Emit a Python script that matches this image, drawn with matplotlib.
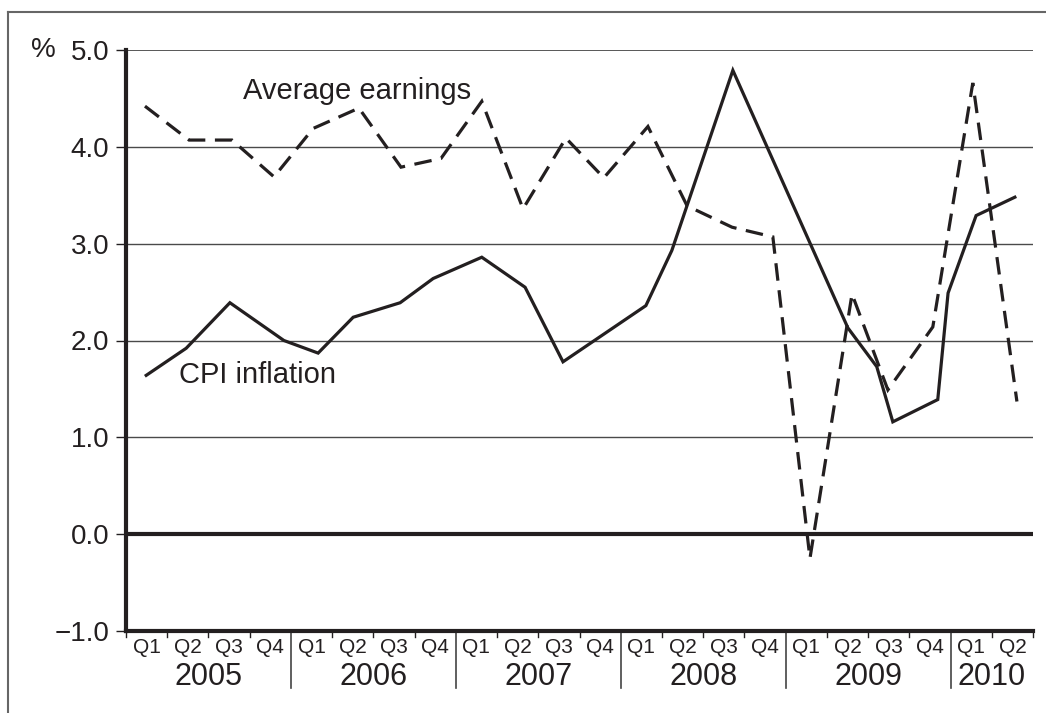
import matplotlib
matplotlib.use("Agg")
import matplotlib.pyplot as plt
from matplotlib.lines import Line2D

plt.rcParams['font.family'] = ['Liberation Sans', 'DejaVu Sans']

# ---- data ----
years = ["2005", "2006", "2007", "2008", "2009", "2010"]
quarters_per_year = [4, 4, 4, 4, 4, 2]
quarter_names = ["Q1", "Q2", "Q3", "Q4"]

earn_x = [0.46, 1.53, 2.57, 3.59, 4.54, 5.65, 6.67, 7.64, 8.63, 9.63, 10.67,
          11.59, 12.66, 13.61, 14.70, 15.69, 16.59, 17.61, 18.48, 19.57, 20.54, 21.61]
earn_y = [4.42, 4.07, 4.07, 3.69, 4.19, 4.40, 3.79, 3.88, 4.47, 3.36, 4.09,
          3.68, 4.21, 3.39, 3.17, 3.07, -0.25, 2.48, 1.49, 2.14, 4.66, 1.37]

cpi_x = [0.49, 1.46, 2.52, 3.83, 4.66, 5.51, 6.65, 7.45, 8.63, 9.68, 10.60,
         12.61, 13.24, 14.72, 17.51, 18.21, 18.60, 19.69, 19.94, 20.62, 21.56]
cpi_y = [1.64, 1.92, 2.39, 2.00, 1.87, 2.24, 2.39, 2.64, 2.86, 2.55, 1.78,
         2.36, 2.93, 4.79, 2.13, 1.73, 1.16, 1.39, 2.49, 3.29, 3.48]

y_ticks = [-1.0, 0.0, 1.0, 2.0, 3.0, 4.0, 5.0]
y_tick_labels = ["\u22121.0", "0.0", "1.0", "2.0", "3.0", "4.0", "5.0"]

ink = "#231f20"
W, H = 1046, 713
fig = plt.figure(figsize=(W / 100, H / 100), dpi=100)
ax = fig.add_axes([126 / W, 1 - 631 / H, (1033 - 126) / W, (631 - 50) / H])

n_q = sum(quarters_per_year)
ax.set_xlim(0, n_q)
ax.set_ylim(-1.0, 5.0)

# grid lines
for v in y_ticks[1:]:
    if v == 0.0:
        continue
    ax.axhline(v, color="#4a4a4a", lw=1.0 if v != 5.0 else 1.3, zorder=1)
ax.axhline(0.0, color=ink, lw=3.0, zorder=2)

ax.plot(earn_x, earn_y, color=ink, lw=2.3, linestyle=(0, (5.5, 3)), zorder=3,
        solid_joinstyle="miter", dash_joinstyle="miter")
ax.plot(cpi_x, cpi_y, color=ink, lw=2.3, zorder=4, solid_joinstyle="miter")

# spines
for s in ["top", "right"]:
    ax.spines[s].set_visible(False)
ax.spines["left"].set_linewidth(3.0)
ax.spines["bottom"].set_linewidth(3.0)
ax.spines["left"].set_color(ink)
ax.spines["bottom"].set_color(ink)

ax.set_yticks(y_ticks)
ax.set_yticklabels(y_tick_labels)
ax.tick_params(axis="y", length=7, width=1.0, color=ink, labelsize=20,
               labelcolor=ink, pad=5)
ax.set_xticks([])

# x axis quarter / year labels
tr = ax.get_xaxis_transform()
pos = 0
for yr, nq in zip(years, quarters_per_year):
    for k in range(nq):
        ax.text(pos + k + 0.5, -0.029, quarter_names[k], transform=tr,
                ha="center", va="center", fontsize=15, color=ink)
        if k > 0:
            ax.plot([pos + k, pos + k], [0, -0.011], transform=tr, color=ink,
                    lw=1.0, clip_on=False)
    ax.text(pos + nq / 2, -0.079, yr, transform=tr, ha="center", va="center",
            fontsize=22, color=ink)
    if pos > 0:
        ax.plot([pos, pos], [0, -0.098], transform=tr, color="#444444", lw=1.2,
                clip_on=False)
    pos += nq
for edge in (0, n_q):
    ax.plot([edge, edge], [0, -0.011], transform=tr, color=ink, lw=1.0, clip_on=False)

# % label
fig.text(43 / W, 1 - 50 / H, "%", ha="center", va="center", fontsize=20, color=ink)

# annotations
ax.text(2.84, 4.58, "Average earnings", ha="left", va="center", fontsize=21, color=ink)
ax.text(1.29, 1.64, "CPI inflation", ha="left", va="center", fontsize=21, color=ink)

# outer frame (top and left)
fig.add_artist(Line2D([8 / W, 1], [1 - 12 / H, 1 - 12 / H], transform=fig.transFigure,
                      color="#666666", lw=1.5))
fig.add_artist(Line2D([8 / W, 8 / W], [0, 1 - 12 / H], transform=fig.transFigure,
                      color="#666666", lw=1.5))

fig.savefig("out.png", dpi=100)
